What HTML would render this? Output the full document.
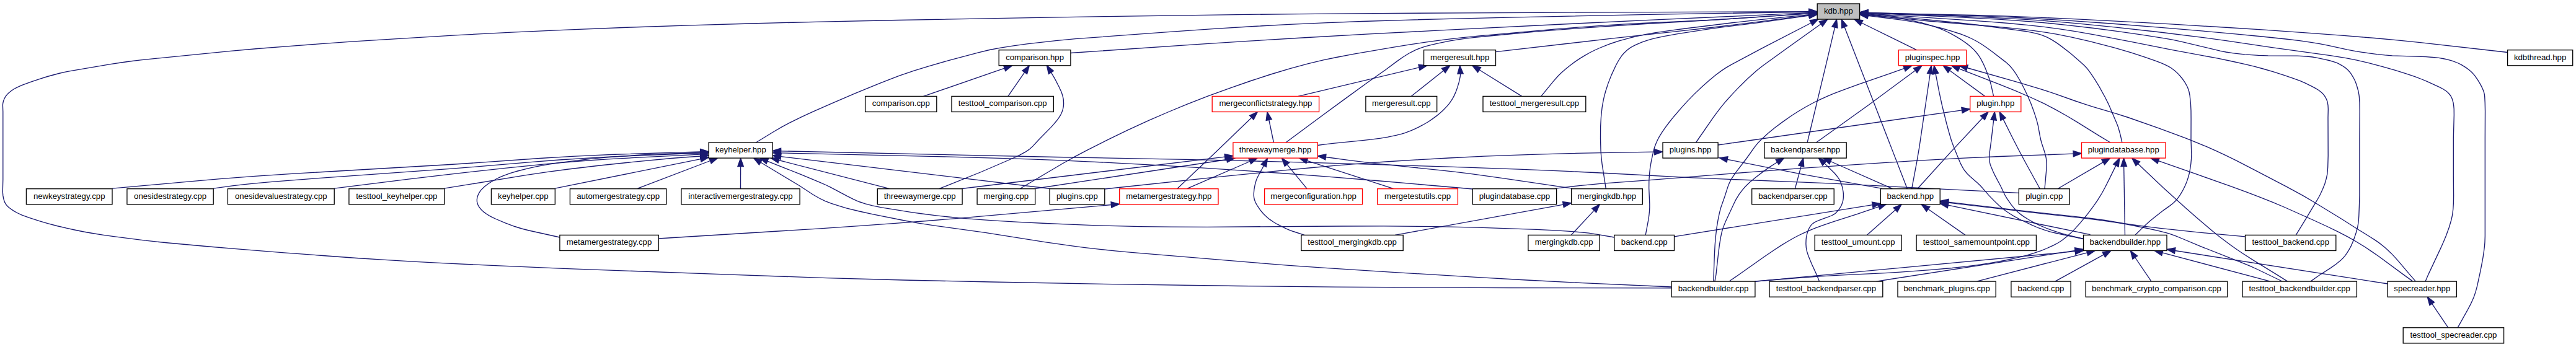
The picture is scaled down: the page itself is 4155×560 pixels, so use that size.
<!DOCTYPE html>
<html><head><meta charset="utf-8"><title>kdb.hpp</title>
<style>html,body{margin:0;padding:0;background:#fff}svg{display:block}.e path{fill:none;stroke:#191970;stroke-width:1.33}.e polygon{fill:#191970;stroke:#191970;stroke-width:1.33}.n rect{fill:#fff;stroke:#000;stroke-width:1.33}.n rect.r{stroke:#f00}.n rect.g{fill:#bfbfbf}.n text{font-family:"Liberation Sans",sans-serif;font-size:13.2px;text-anchor:middle;fill:#000}</style></head><body>
<svg width="4155" height="560" viewBox="0 0 4155 560">
<rect width="4155" height="560" fill="#fff"/>
<g class="e">
<path d="M1726.9,85.5 1930.1,71.7 2011.8,66.4 2100.3,61.0 2203.4,55.2 2348.1,47.6 2541.9,38.0 2665.3,32.2 2917.9,20.7"/>
<polygon points="2931.2,20.1 2918.1,25.4 2917.7,16.1"/>
<path d="M2412.5,83.6 2601.5,61.9 2718.5,49.2 2759.8,44.5 2817.0,37.6 2918.0,24.6"/>
<polygon points="2931.2,22.9 2918.6,29.2 2917.4,19.9"/>
<path d="M3091.5,80.7 3002.8,37.0"/>
<polygon points="2990.9,31.1 3004.9,32.8 3000.8,41.2"/>
<path d="M4044.6,84.5 3903.9,68.7 3867.0,64.9 3830.5,61.5 3780.0,57.4 3718.7,52.8 3651.8,48.2 3578.3,43.5 3497.2,38.7 3417.7,34.3 3340.4,30.4 3276.8,27.6 3231.7,25.9 3182.9,24.5 3012.9,20.8"/>
<polygon points="2999.6,20.5 3013.0,16.2 3012.8,25.5"/>
<path d="M1489.5,155.4 1620.2,110.1"/>
<polygon points="1632.8,105.8 1621.7,114.6 1618.7,105.7"/>
<path d="M1625.9,155.4 1652.7,116.7"/>
<polygon points="1660.3,105.8 1656.6,119.4 1648.9,114.1"/>
<path d="M2094.0,155.4 2289.0,108.9"/>
<polygon points="2301.9,105.8 2290.0,113.4 2287.9,104.3"/>
<path d="M2276.1,155.4 2328.3,114.1"/>
<polygon points="2338.7,105.8 2331.2,117.7 2325.4,110.4"/>
<path d="M2454.7,155.4 2386.1,112.8"/>
<polygon points="2374.8,105.8 2388.6,108.8 2383.6,116.8"/>
<path d="M2485.8,155.4 2505.2,131.6 2511.2,124.7 2515.5,120.3 2520.0,116.0 2526.7,110.3 2533.6,104.7 2540.8,99.4 2548.3,94.4 2556.1,89.6 2564.2,85.0 2572.2,81.0 2580.0,77.5 2590.8,73.1 2599.2,70.0 2610.9,66.2 2630.1,60.9 2646.4,57.1 2657.5,54.9 2669.0,52.9 2693.2,49.3 2718.6,46.0 2801.7,35.8 2837.4,31.9 2917.9,23.7"/>
<polygon points="2931.2,22.2 2918.4,28.3 2917.4,19.0"/>
<path d="M3201.7,155.4 3144.8,113.7"/>
<polygon points="3134.1,105.8 3147.6,109.9 3142.1,117.4"/>
<path d="M3215.6,155.4 3211.6,137.3 3209.1,128.2 3204.8,116.5 3201.2,107.5 3198.4,101.6 3195.3,95.7 3191.9,90.2 3190.0,87.5 3186.1,82.8 3181.9,78.4 3177.3,74.3 3172.4,70.4 3167.3,66.7 3161.9,63.1 3153.6,58.1 3145.4,53.6 3140.1,51.0 3132.0,47.4 3126.4,45.2 3117.7,42.1 3108.7,39.3 3099.2,36.7 3084.6,33.3 3076.2,31.7 3067.5,30.4 3049.3,28.2 3012.8,24.5"/>
<polygon points="2999.6,23.0 3013.4,19.9 3012.3,29.2"/>
<path d="M1219.0,230.2 1248.0,212.5 1261.5,204.6 1275.2,197.3 1294.1,188.1 1310.9,180.4 1342.2,166.6 1379.4,150.6 1419.1,134.4 1436.4,127.6 1450.7,122.2 1474.2,114.1 1497.9,106.8 1528.1,98.2 1578.0,84.8 1596.0,80.5 1614.0,77.1 1634.8,73.8 1656.5,70.9 1703.1,65.7 1734.5,62.7 1887.4,51.3 1959.4,46.4 2022.6,42.5 2079.9,39.4 2135.9,36.8 2197.0,34.5 2267.1,32.3 2348.6,30.1 2445.6,27.9 2660.8,23.3 2917.9,19.3"/>
<polygon points="2931.2,19.1 2917.9,24.0 2917.8,14.7"/>
<path d="M2054.4,230.0 2046.8,193.5"/>
<polygon points="2044.0,180.5 2051.3,192.5 2042.2,194.5"/>
<path d="M2125.2,234.5 2137.5,232.8 2150.1,231.3 2195.4,226.9 2211.3,225.2 2226.8,223.1 2238.7,221.2 2252.8,218.2 2260.7,216.1 2265.8,214.6 2276.3,210.7 2282.6,207.9 2288.8,204.9 2294.8,201.7 2303.4,196.7 2308.8,193.1 2316.4,187.6 2321.2,183.8 2327.7,177.9 2333.5,171.9 2337.0,167.9 2339.0,165.2 2342.7,159.6 2345.9,153.6 2348.5,147.5 2350.7,141.4 2353.3,132.7 2355.0,125.0 2355.5,121.4 2355.6,119.1"/>
<polygon points="2354.7,105.8 2360.2,118.8 2350.9,119.4"/>
<path d="M2074.0,230.0 2133.7,185.7 2168.3,160.4 2206.3,132.8 2235.4,112.2 2253.0,99.1 2262.7,92.2 2272.7,86.0 2277.9,83.3 2283.3,80.7 2288.9,78.4 2294.5,76.4 2300.1,74.6 2308.7,72.3 2320.8,69.6 2339.2,65.9 2349.9,64.1 2364.0,62.2 2378.9,60.4 2397.6,58.5 2450.1,53.5 2481.7,50.7 2539.9,46.2 2613.7,41.0 2653.3,38.5 2765.7,32.0 2917.9,21.8"/>
<polygon points="2931.2,20.9 2918.2,26.4 2917.6,17.1"/>
<path d="M2771.1,234.0 3164.5,177.9"/>
<polygon points="3177.7,176.0 3165.2,182.5 3163.8,173.3"/>
<path d="M2735.5,230.0 2763.4,189.6 2770.6,179.8 2776.2,172.6 2784.0,163.2 2794.7,151.4 2805.7,139.9 2818.8,127.1 2833.6,113.7 2843.1,106.2 2882.5,77.7 2937.0,38.8"/>
<polygon points="2947.9,31.1 2939.7,42.6 2934.3,35.0"/>
<path d="M2929.5,230.0 3013.6,169.7 3089.3,113.7"/>
<polygon points="3100.0,105.8 3092.1,117.5 3086.5,110.0"/>
<path d="M2915.1,230.0 2945.9,101.9 2959.5,44.1"/>
<polygon points="2962.5,31.1 2964.0,45.1 2954.9,43.0"/>
<path d="M3403.9,230.0 3385.8,219.1 3350.1,196.9 3334.5,187.5 3315.6,176.8 3296.0,166.7 3275.1,157.0 3250.5,146.4 3225.0,136.2 3159.9,110.8"/>
<polygon points="3147.5,105.8 3161.6,106.5 3158.1,115.1"/>
<path d="M3422.8,230.0 3422.0,226.0 3419.3,214.7 3416.5,205.0 3414.2,198.9 3401.0,168.1 3395.3,156.7 3386.3,140.4 3379.3,128.8 3372.0,117.8 3368.1,112.6 3366.0,110.0 3361.7,105.5 3357.1,101.2 3339.9,86.2 3325.2,74.9 3317.7,69.4 3309.4,64.1 3303.4,60.8 3300.2,59.4 3294.6,57.1 3289.5,55.4 3281.4,53.3 3275.8,52.1 3266.9,50.5 3251.3,48.3 3228.2,45.4 3195.7,41.0 3156.0,36.5 3079.9,28.8 3012.9,22.8"/>
<polygon points="2999.6,21.6 3013.3,18.2 3012.5,27.5"/>
<path d="M181.0,304.2 303.7,293.1 355.1,288.7 410.9,284.4 475.2,280.2 726.0,265.5 773.0,262.4 870.6,255.5 923.0,252.3 959.0,250.6 998.1,249.0 1129.8,244.9"/>
<polygon points="1143.1,244.5 1129.9,249.6 1129.6,240.3"/>
<path d="M344.0,304.2 374.8,299.9 391.7,297.8 411.4,295.8 439.1,293.4 512.9,287.7 726.0,272.4 773.0,268.7 861.9,261.1 902.4,258.0 944.0,255.3 986.0,253.0 1028.2,251.1 1129.8,247.1"/>
<polygon points="1143.1,246.5 1130.0,251.7 1129.6,242.4"/>
<path d="M538.7,304.2 658.7,289.1 715.9,282.3 814.6,271.3 883.7,264.4 935.0,260.0 980.0,256.9 1025.2,254.4 1129.8,249.2"/>
<polygon points="1143.1,248.5 1130.0,253.9 1129.5,244.6"/>
<path d="M716.0,304.2 848.3,282.7 883.9,277.4 917.0,273.0 967.7,267.0 1028.9,260.6 1082.8,255.5 1129.8,252.0"/>
<polygon points="1143.1,251.0 1130.2,256.7 1129.5,247.3"/>
<path d="M894.8,304.2 1130.0,256.6"/>
<polygon points="1143.1,254.0 1131.0,261.2 1129.1,252.1"/>
<path d="M1028.5,304.2 1145.5,259.5"/>
<polygon points="1158.0,254.7 1147.2,263.8 1143.9,255.1"/>
<path d="M1194.5,304.7 1194.6,268.5"/>
<polygon points="1194.6,255.1 1199.3,268.5 1189.9,268.5"/>
<path d="M1435.1,304.7 1256.1,258.5"/>
<polygon points="1243.2,255.1 1257.3,254.0 1255.0,263.0"/>
<path d="M1551.0,304.5 1975.7,253.1"/>
<polygon points="1988.9,251.5 1976.2,257.7 1975.1,248.5"/>
<path d="M1514.6,304.7 1581.3,278.0 1633.5,255.5 1644.5,250.4 1654.0,245.2 1658.0,242.6 1661.1,240.3 1666.0,235.9 1675.0,226.0 1695.0,205.6 1699.7,200.4 1704.0,195.3 1707.7,190.4 1710.7,185.7 1713.2,180.0 1714.3,176.6 1715.0,173.3 1715.5,170.0 1715.6,166.7 1715.2,160.0 1714.0,154.5 1712.1,148.8 1708.2,140.3 1701.2,126.6 1695.4,116.9"/>
<polygon points="1688.4,105.6 1699.4,114.5 1691.4,119.4"/>
<path d="M1669.0,304.5 1978.8,257.5"/>
<polygon points="1992.0,255.5 1979.5,262.1 1978.1,252.9"/>
<path d="M1644.8,304.7 1714.2,263.8 1733.1,253.2 1753.0,242.6 1786.1,225.9 1818.6,210.2 1852.3,194.7 1883.8,181.0 1915.5,167.9 1949.5,154.7 1984.8,141.8 2017.4,130.5 2049.6,120.0 2080.9,110.6 2109.5,102.8 2134.4,96.9 2155.7,92.5 2182.5,87.4 2246.5,76.4 2274.2,71.9 2301.1,67.9 2331.0,63.9 2354.8,61.1 2384.0,58.1 2504.3,47.4 2548.4,43.8 2589.2,40.8 2638.0,37.9 2732.4,33.7 2768.7,31.8 2823.0,28.4 2917.9,21.8"/>
<polygon points="2931.2,20.9 2918.2,26.4 2917.6,17.1"/>
<path d="M1694.0,304.5 1259.4,252.6"/>
<polygon points="1246.2,251.0 1260.0,247.9 1258.9,257.2"/>
<path d="M1781.8,305.0 1968.6,285.1 2066.0,275.4 2117.0,270.5 2157.5,266.9 2195.5,263.9 2235.3,261.0 2284.8,257.9 2336.5,255.0 2393.8,252.2 2441.4,250.3 2487.0,248.8 2531.6,247.6 2668.7,245.2"/>
<polygon points="2682.0,245.0 2668.8,249.9 2668.6,240.6"/>
<path d="M1898.6,304.7 1961.8,244.7 2018.8,189.7"/>
<polygon points="2028.4,180.5 2022.0,193.1 2015.6,186.4"/>
<path d="M1914.2,304.7 2016.0,260.5"/>
<polygon points="2028.2,255.1 2017.8,264.7 2014.1,256.2"/>
<path d="M2108.2,304.7 2075.9,265.4"/>
<polygon points="2067.4,255.1 2079.5,262.5 2072.3,268.4"/>
<path d="M2248.0,304.7 2108.3,259.3"/>
<polygon points="2095.6,255.1 2109.7,254.8 2106.8,263.7"/>
<path d="M2375.2,305.0 2220.0,291.5 2135.3,284.7 2073.4,280.0 2014.1,275.9 1934.3,270.7 1867.2,266.7 1806.1,263.3 1755.5,260.8 1706.6,258.7 1661.5,256.9 1612.9,255.4 1511.2,252.6 1259.5,246.8"/>
<polygon points="1246.2,246.5 1259.6,242.2 1259.4,251.5"/>
<path d="M2509.0,304.2 2547.6,299.6 2581.7,296.4 2663.7,290.3 2827.9,277.3 2904.0,271.7 2974.1,266.8 3086.0,259.6 3162.4,255.3 3225.7,252.5 3344.2,248.2"/>
<polygon points="3357.5,247.7 3344.4,252.9 3344.0,243.5"/>
<path d="M2536.0,304.2 2425.5,287.8 2371.7,280.4 2347.4,277.4 2322.2,274.6 2235.9,265.6 2208.9,262.7 2178.0,258.8 2138.4,253.5"/>
<polygon points="2125.2,251.7 2139.0,248.8 2137.8,258.1"/>
<path d="M2590.3,304.7 2584.1,264.8 2582.7,252.2 2582.0,242.6 2581.5,224.1 2581.6,204.8 2582.5,188.8 2584.1,173.6 2586.2,161.6 2587.6,155.4 2590.1,146.3 2593.9,134.6 2599.2,121.1 2605.8,106.8 2608.8,101.0 2612.0,95.5 2615.5,90.4 2617.4,88.0 2619.4,85.7 2623.8,81.5 2628.4,77.9 2633.4,74.8 2638.9,72.1 2648.2,68.2 2656.2,65.3 2663.7,63.1 2672.0,61.1 2683.8,58.6 2706.0,54.7 2752.7,47.3 2774.0,44.4 2832.5,37.2 2918.0,25.2"/>
<polygon points="2931.2,23.4 2918.7,29.8 2917.3,20.6"/>
<path d="M2895.3,304.7 2905.2,268.0"/>
<polygon points="2908.7,255.1 2909.7,269.2 2900.7,266.8"/>
<path d="M3035.0,304.2 2945.4,288.2 2903.9,280.6 2859.1,271.9 2786.1,257.3"/>
<polygon points="2773.0,254.7 2787.0,252.7 2785.2,261.9"/>
<path d="M3052.9,304.7 2952.7,260.5"/>
<polygon points="2940.5,255.1 2954.6,256.2 2950.8,264.8"/>
<path d="M3076.4,304.7 2975.1,43.5"/>
<polygon points="2970.3,31.1 2979.4,41.8 2970.7,45.2"/>
<path d="M3083.6,304.7 3091.8,260.8 3095.9,236.8 3113.2,119.0"/>
<polygon points="3115.2,105.8 3117.8,119.6 3108.6,118.3"/>
<path d="M3092.7,304.7 3146.9,244.9 3197.9,190.2"/>
<polygon points="3207.0,180.5 3201.3,193.4 3194.5,187.0"/>
<path d="M3256.3,311.3 2956.7,296.2 2902.4,293.8 2784.1,289.1 2731.1,286.8 2581.5,279.0 2534.0,276.7 2449.9,273.2 2337.1,269.2 2159.2,263.6 1992.9,259.1 1911.9,257.3 1703.2,253.5 1259.5,243.8"/>
<polygon points="1246.2,243.5 1259.6,239.1 1259.4,248.5"/>
<path d="M3290.4,304.7 3268.1,264.2 3257.9,245.3 3246.8,223.7 3231.1,192.4"/>
<polygon points="3225.1,180.5 3235.3,190.3 3226.9,194.5"/>
<path d="M3318.8,304.7 3392.2,261.9"/>
<polygon points="3403.7,255.1 3394.6,265.9 3389.9,257.8"/>
<path d="M3298.0,304.7 3300.8,273.2 3301.1,264.1 3300.7,258.4 3300.3,255.2 3299.0,249.1 3297.2,243.3 3293.4,231.8 3291.8,226.0 3290.5,220.2 3287.3,202.7 3285.0,193.6 3280.4,179.4 3276.0,167.5 3271.0,155.7 3264.2,141.5 3258.2,130.0 3251.7,119.2 3246.7,112.1 3242.9,107.5 3240.8,105.3 3234.4,99.6 3213.8,83.8 3204.2,76.7 3196.5,71.5 3188.2,66.5 3179.5,62.0 3171.9,58.6 3161.0,54.5 3146.6,49.8 3131.4,45.5 3112.6,40.9 3091.4,36.2 3079.6,34.1 3064.5,31.8 3012.8,25.3"/>
<polygon points="2999.6,23.5 3013.4,20.7 3012.2,29.9"/>
<path d="M902.9,383.0 853.3,372.0 841.5,369.0 830.3,365.5 815.1,359.9 800.0,353.5 794.4,350.8 789.2,348.1 784.6,345.3 780.7,342.4 776.4,338.5 774.2,335.9 772.4,333.3 771.0,330.7 770.0,328.0 769.4,325.3 769.3,322.0 769.8,318.6 770.9,315.2 772.5,311.8 774.5,308.6 776.0,306.6 777.8,304.7 782.0,300.8 786.9,297.0 792.3,293.5 801.0,288.5 806.0,286.1 811.3,283.8 822.7,279.7 835.0,276.0 851.4,271.8 864.9,268.8 882.3,265.7 903.6,262.4 931.9,258.8 952.6,256.4 976.6,254.2 1004.2,252.0 1035.2,250.0 1056.5,248.9 1081.2,248.0 1129.8,246.5"/>
<polygon points="1143.1,246.0 1129.9,251.1 1129.6,241.8"/>
<path d="M1062.2,385.0 1319.0,369.1 1384.9,364.7 1444.1,360.4 1501.6,356.0 1567.7,350.4 1792.4,330.5"/>
<polygon points="1805.7,329.3 1792.8,335.1 1792.0,325.8"/>
<path d="M2104.0,379.3 2086.0,373.5 2080.0,371.3 2074.2,368.8 2065.7,364.7 2059.9,361.7 2054.4,358.5 2047.0,353.4 2044.4,351.3 2039.6,346.8 2037.4,344.5 2033.4,339.8 2028.0,331.8 2026.1,328.7 2024.6,325.5 2023.4,322.2 2022.6,318.6 2022.3,315.6 2022.3,312.3 2022.9,305.5 2024.2,298.5 2026.0,291.9 2027.0,289.0 2029.7,283.2 2035.7,272.5 2038.3,267.4"/>
<polygon points="2044.4,255.5 2042.5,269.5 2034.2,265.2"/>
<path d="M2250.1,379.4 2521.5,330.1"/>
<polygon points="2534.6,327.7 2522.3,334.7 2520.6,325.5"/>
<path d="M2534.2,379.4 2571.2,339.6"/>
<polygon points="2580.3,329.8 2574.6,342.8 2567.8,336.4"/>
<path d="M2603.8,383.0 2575.3,378.1 2562.8,376.2 2549.7,374.8 2532.3,373.3 2509.5,371.9 2478.2,370.4 2383.4,367.1 2319.0,365.7 2231.7,364.9 2164.3,365.0 1947.2,366.3 1888.5,366.2 1839.0,365.6 1799.6,364.7 1763.0,363.6 1725.5,362.2 1686.6,360.5 1643.4,358.4 1609.3,356.4 1579.6,354.4 1551.5,352.1 1529.8,350.0 1508.2,347.6 1487.5,345.0 1470.3,342.6 1422.0,334.9 1407.3,331.9 1395.7,328.8 1387.1,326.0 1381.6,323.8 1376.2,321.4 1365.8,316.2 1347.5,306.3 1339.0,301.9 1333.1,299.0 1322.6,294.3 1292.7,281.9 1237.9,260.1"/>
<polygon points="1225.5,255.1 1239.6,255.8 1236.1,264.5"/>
<path d="M2654.2,379.4 2658.9,354.2 2659.8,347.7 2660.5,341.0 2660.8,335.1 2660.8,328.9 2659.7,303.7 2659.8,291.9 2660.7,279.2 2661.7,270.3 2663.2,261.4 2665.1,252.4 2667.1,243.5 2668.8,237.5 2671.1,231.4 2674.0,225.0 2676.5,220.4 2681.0,213.2 2686.2,205.7 2691.9,198.0 2700.2,187.7 2711.0,175.1 2721.6,163.4 2732.6,152.1 2744.2,141.0 2756.0,130.5 2767.4,121.0 2776.7,114.1 2784.2,109.1 2793.8,103.6 2844.0,76.9 2921.2,37.0"/>
<polygon points="2933.0,30.8 2923.3,41.1 2919.0,32.8"/>
<path d="M2700.5,381.8 3020.2,330.6"/>
<polygon points="3033.4,328.5 3021.0,335.2 3019.5,326.0"/>
<path d="M3011.2,379.4 3057.2,338.7"/>
<polygon points="3067.2,329.8 3060.3,342.2 3054.1,335.2"/>
<path d="M3169.9,379.4 3110.1,337.5"/>
<polygon points="3099.2,329.8 3112.8,333.7 3107.4,341.3"/>
<path d="M3371.6,378.7 3142.3,331.2"/>
<polygon points="3129.2,328.5 3143.2,326.6 3141.3,335.8"/>
<path d="M3360.5,385.5 3317.3,376.5 3306.1,373.8 3297.6,371.2 3288.4,368.0 3277.1,363.2 3259.9,355.0 3248.3,348.8 3240.1,343.7 3235.0,340.3 3229.6,336.1 3224.5,331.7 3217.3,324.9 3208.5,315.9 3194.6,300.0 3190.2,295.7 3177.6,284.8 3172.8,280.0 3168.7,275.0 3166.9,272.3 3165.2,269.4 3162.1,263.4 3159.4,257.1 3151.2,236.7 3149.2,231.5 3147.0,225.0 3144.1,215.2 3140.0,200.3 3132.7,171.0 3128.2,150.4 3122.1,118.9"/>
<polygon points="3119.5,105.8 3126.7,118.0 3117.5,119.8"/>
<path d="M3360.5,385.5 3333.0,378.8 3321.0,375.3 3309.1,371.3 3300.1,368.0 3291.5,364.4 3286.0,361.8 3277.7,357.6 3272.2,354.5 3264.4,349.6 3259.5,346.1 3255.0,342.4 3252.6,340.2 3248.2,335.4 3244.1,330.4 3237.0,320.2 3233.7,314.5 3226.8,300.0 3217.8,283.1 3215.1,277.6 3211.3,268.5 3210.2,265.4 3209.4,262.1 3208.8,258.4 3208.6,255.8 3208.6,253.1 3209.0,247.3 3211.6,228.3 3215.7,193.7"/>
<polygon points="3217.3,180.5 3220.3,194.3 3211.0,193.1"/>
<path d="M3427.5,379.4 3425.7,268.5"/>
<polygon points="3425.5,255.1 3430.4,268.4 3421.0,268.5"/>
<path d="M3444.0,379.3 3457.1,366.4 3466.2,358.1 3473.2,352.3 3490.0,339.1 3499.8,332.1 3504.5,328.4 3509.0,324.3 3511.0,322.0 3512.9,319.7 3516.4,314.6 3519.7,309.2 3522.7,303.5 3525.4,297.7 3527.7,291.9 3529.6,286.0 3531.2,280.0 3532.4,273.8 3533.8,264.5 3534.6,255.2 3534.8,249.0 3534.0,226.0 3534.1,191.4 3534.0,178.8 3533.5,168.0 3532.1,154.0 3530.9,148.0 3528.8,141.8 3527.4,138.7 3524.0,132.7 3520.0,127.0 3516.3,122.5 3512.3,118.1 3507.7,113.9 3502.4,110.0 3497.7,107.2 3492.6,104.6 3487.0,102.2 3478.0,98.7 3459.4,92.1 3437.3,84.8 3409.9,76.9 3370.3,66.7 3341.8,60.1 3317.0,55.2 3300.4,52.3 3286.6,50.3 3269.7,48.1 3251.7,46.1 3213.4,42.5 3110.5,34.0 3073.3,30.2 3012.9,23.7"/>
<polygon points="2999.6,22.2 3013.4,19.0 3012.4,28.3"/>
<path d="M3621.5,381.8 3543.1,374.7 3484.3,368.3 3460.0,365.4 3438.0,362.5 3424.9,360.5 3395.3,355.5 3372.9,352.5 3343.9,349.2 3263.8,340.4 3142.4,326.1"/>
<polygon points="3129.2,324.5 3143.0,321.4 3141.9,330.7"/>
<path d="M3703.2,379.3 3720.2,351.7 3734.9,327.1 3739.7,319.0 3742.5,313.7 3746.3,305.5 3749.8,296.7 3752.3,288.0 3753.6,282.0 3754.0,278.9 3754.7,269.7 3755.2,251.1 3755.0,190.0 3755.3,175.9 3755.0,170.0 3754.4,166.4 3753.7,163.2 3752.4,160.0 3750.9,157.2 3749.2,154.4 3747.0,151.7 3744.3,149.0 3740.2,145.8 3735.1,142.7 3729.5,139.6 3717.8,133.9 3709.8,130.4 3698.7,126.3 3684.1,121.3 3667.0,115.9 3651.9,111.5 3636.9,107.4 3622.2,103.8 3600.4,99.0 3577.2,94.2 3502.8,80.3 3437.5,67.3 3377.2,55.9 3347.2,50.6 3321.2,46.6 3297.0,43.4 3269.2,40.3 3238.9,37.5 3209.6,35.2 3172.9,32.6 3012.9,22.1"/>
<polygon points="2999.6,21.1 3013.2,17.4 3012.6,26.7"/>
<path d="M2696.1,464.8 2436.8,464.5 2316.5,464.1 2154.7,463.1 1997.0,461.5 1811.0,458.9 1598.2,455.0 1457.3,452.0 1334.0,448.6 1176.9,443.2 908.7,433.3 787.8,428.1 723.6,425.1 670.8,422.3 620.9,419.4 575.1,416.5 520.6,412.5 458.1,407.8 377.5,401.4 337.5,398.0 271.3,392.0 234.3,388.2 185.4,381.9 167.1,379.3 149.2,376.5 135.0,374.0 120.2,371.0 107.2,368.2 91.7,364.5 77.0,360.6 63.4,356.6 47.2,351.4 35.4,347.1 27.7,343.5 22.1,340.4 16.2,336.3 13.6,334.2 11.4,332.0 9.5,329.6 7.6,326.4 6.4,323.0 5.5,319.3 4.8,315.4 4.3,309.6 4.8,290.0 4.8,180.0 4.4,169.3 4.8,166.0 5.8,162.1 7.4,158.5 9.5,155.0 11.4,152.6 13.7,150.3 19.0,146.0 22.0,144.0 26.8,141.3 35.0,137.7 50.0,132.1 64.2,127.3 76.5,123.5 95.0,118.5 104.2,116.4 113.3,114.7 177.9,103.7 195.3,101.0 209.3,99.0 226.8,96.9 246.2,94.9 372.0,82.4 415.4,78.5 468.8,74.3 567.0,67.1 619.5,63.8 738.8,56.6 830.5,51.9 920.4,47.8 1018.5,44.0 1113.0,40.8 1210.6,38.0 1325.8,35.1 1449.3,32.5 1605.1,29.6 1784.0,26.6 1995.4,23.6 2093.7,22.6 2182.8,21.8 2364.5,20.8 2917.9,18.7"/>
<polygon points="2931.2,18.7 2917.9,23.4 2917.9,14.1"/>
<path d="M2696.1,463.0 2552.5,456.6 2462.3,452.0 2380.7,447.3 2238.8,438.9 2133.6,432.2 2079.2,428.3 2020.8,423.7 1825.0,407.3 1798.3,404.9 1774.4,402.4 1750.1,399.6 1729.3,396.9 1686.9,390.8 1589.0,375.4 1509.4,364.4 1479.8,359.8 1459.0,356.0 1408.3,345.9 1386.1,341.0 1365.0,335.8 1351.2,331.7 1341.0,328.4 1330.7,324.3 1321.7,320.0 1311.3,314.0 1288.8,299.3 1226.9,262.0"/>
<polygon points="1215.5,255.1 1229.3,258.0 1224.5,266.0"/>
<path d="M2763.8,454.1 2765.3,412.4 2766.2,395.1 2767.2,382.7 2769.1,366.9 2771.1,354.8 2773.4,343.6 2775.8,334.6 2782.0,317.0 2786.9,301.6 2789.4,295.3 2792.3,289.7 2795.3,284.8 2800.5,277.3 2817.6,255.0 2829.9,237.6 2835.9,230.2 2842.7,223.4 2852.2,214.8 2863.2,205.8 2875.5,196.6 2888.8,187.3 2900.1,180.0 2911.9,173.0 2925.6,165.5 2935.2,160.8 2947.9,155.1 2958.6,150.7 2972.5,145.3 2998.5,135.8 3049.2,118.4 3071.6,110.4"/>
<polygon points="3084.1,105.8 3073.2,114.8 3069.9,106.1"/>
<path d="M2765.9,454.1 2767.5,446.0 2768.0,442.4 2771.7,408.8 2773.5,394.6 2775.7,381.6 2777.5,373.5 2779.6,366.6 2783.3,357.4 2796.8,328.5 2799.7,322.6 2804.8,314.2 2810.6,306.4 2815.0,301.3 2821.6,294.8 2830.9,286.9 2843.7,277.1 2853.8,269.9 2866.6,261.7"/>
<polygon points="2878.0,254.7 2869.1,265.6 2864.2,257.7"/>
<path d="M2790.0,453.3 2805.1,443.0 2845.4,414.5 2863.1,402.5 2873.2,395.9 2883.3,389.7 2893.4,384.0 2901.0,380.0 2909.7,375.8 2918.7,371.9 2927.8,368.2 2940.1,363.6 2958.4,357.4 2994.4,345.8 3030.4,333.6"/>
<polygon points="3043.0,329.3 3031.9,338.0 3028.9,329.1"/>
<path d="M2830.0,454.4 3347.2,405.7"/>
<polygon points="3360.5,404.5 3347.7,410.4 3346.8,401.1"/>
<path d="M2830.9,454.0 2899.6,448.5 2936.9,445.8 2966.7,444.2 3035.4,440.9 3065.2,439.2 3112.8,435.7 3149.0,432.5 3166.0,430.6 3188.1,427.8 3206.3,425.2 3220.9,422.7 3235.0,420.0 3253.9,415.9 3268.9,412.1 3280.3,408.7 3292.0,404.6 3301.0,401.0 3312.2,395.9 3319.5,392.0 3325.4,388.2 3333.1,382.3 3340.1,376.1 3346.7,369.4 3355.7,359.4 3367.0,345.6 3376.2,333.4 3383.5,322.8 3389.9,312.5 3395.5,302.2 3402.4,288.6 3412.9,267.1"/>
<polygon points="3418.8,255.1 3417.1,269.2 3408.7,265.0"/>
<path d="M2934.3,453.6 2930.6,444.2 2923.3,428.4 2919.1,418.6 2916.5,412.0 2914.5,405.6 2913.3,399.6 2912.9,393.6 2913.1,387.0 2913.4,383.7 2914.7,377.3 2916.7,371.3 2918.0,368.5 2919.5,365.9 2921.3,363.4 2923.2,361.4 2925.6,359.6 2928.2,358.0 2934.4,355.3 2947.8,350.5 2954.1,348.0 2956.9,346.6 2959.3,345.1 2961.4,343.4 2965.7,338.6 2967.5,336.0 2969.1,333.4 2970.4,330.7 2971.5,327.8 2972.4,325.0 2973.0,322.0 2973.3,319.2 2973.4,313.2 2973.1,310.1 2972.0,303.8 2971.2,300.6 2969.2,294.7 2968.0,291.9 2966.6,289.3 2963.0,284.2 2958.8,279.3 2942.9,263.6"/>
<polygon points="2933.0,254.7 2946.1,260.1 2939.8,267.1"/>
<path d="M3026.5,454.1 3347.3,404.4"/>
<polygon points="3360.5,402.4 3348.0,409.0 3346.6,399.8"/>
<path d="M3188.4,454.1 3366.5,407.8"/>
<polygon points="3379.4,404.5 3367.7,412.4 3365.3,403.3"/>
<path d="M3314.8,454.1 3393.3,410.9"/>
<polygon points="3404.9,404.5 3395.5,415.0 3391.0,406.8"/>
<path d="M3470.0,454.1 3443.8,415.5"/>
<polygon points="3436.3,404.5 3447.6,412.9 3439.9,418.1"/>
<path d="M3661.9,454.1 3487.9,407.9"/>
<polygon points="3475.0,404.5 3489.1,403.4 3486.7,412.4"/>
<path d="M3680.0,453.5 3640.7,434.5 3628.8,429.2 3612.3,422.3 3547.8,396.9 3519.6,385.0 3508.9,380.7 3500.5,377.7 3494.8,375.9 3480.0,372.1 3458.8,367.5 3425.8,361.2 3408.3,358.4 3383.2,354.9 3353.0,351.2 3266.9,341.7 3142.4,327.2"/>
<polygon points="3129.2,325.7 3143.0,322.6 3141.9,331.9"/>
<path d="M3689.7,454.1 3674.3,444.4 3635.6,420.6 3617.8,409.2 3607.8,402.5 3597.9,395.5 3580.9,382.7 3568.8,373.1 3557.0,363.1 3542.9,351.0 3524.7,334.9 3488.8,302.5 3448.4,264.3"/>
<polygon points="3438.7,255.1 3451.6,260.9 3445.1,267.7"/>
<path d="M3726.9,454.1 3740.1,444.8 3759.7,432.1 3768.0,426.3 3775.6,420.1 3779.9,415.8 3781.8,413.6 3785.6,408.4 3789.0,402.9 3792.1,397.1 3794.7,391.2 3797.1,385.1 3800.1,376.0 3802.6,367.0 3803.7,360.9 3804.4,354.7 3804.8,348.5 3805.7,323.9 3805.9,315.0 3805.9,222.8 3806.2,179.0 3806.0,165.6 3805.3,155.7 3804.9,152.5 3803.6,146.0 3801.0,136.8 3798.7,130.8 3795.7,124.8 3792.0,118.9 3790.0,116.2 3787.8,113.7 3785.5,111.5 3783.0,109.4 3777.6,105.8 3772.3,102.8 3769.2,101.4 3763.1,99.4 3756.6,97.5 3749.4,95.8 3736.5,93.1 3730.0,92.0 3720.9,91.0 3705.4,90.1 3658.3,89.8 3642.8,89.3 3620.7,87.8 3602.5,85.9 3590.3,84.0 3580.9,82.1 3518.1,67.1 3504.1,64.2 3489.7,61.7 3454.8,56.2 3416.2,50.6 3377.3,45.5 3337.0,40.8 3310.2,38.0 3283.3,35.5 3255.1,33.3 3223.0,31.2 3165.7,28.1 3012.9,21.1"/>
<polygon points="2999.6,20.4 3013.2,16.5 3012.7,25.8"/>
<path d="M3851.1,458.0 3508.2,404.5"/>
<polygon points="3495.0,402.4 3508.9,399.9 3507.5,409.1"/>
<path d="M3891.2,453.6 3876.3,442.9 3836.9,413.8 3824.3,405.1 3814.1,398.3 3801.0,390.2 3787.7,382.7 3770.9,373.9 3753.6,365.5 3730.8,355.0 3685.0,334.5 3665.7,326.4 3643.0,317.3 3624.0,310.1 3598.1,300.7 3542.4,280.9 3481.6,259.6"/>
<polygon points="3469.0,255.2 3483.1,255.2 3480.0,264.0"/>
<path d="M3896.0,453.6 3887.7,444.1 3869.1,422.1 3862.9,415.1 3856.5,408.4 3850.0,402.2 3845.4,398.2 3838.0,392.4 3830.5,387.1 3822.8,382.2 3805.0,371.2 3775.9,352.8 3730.9,325.2 3714.5,315.6 3688.3,301.3 3629.9,270.8 3608.1,259.6 3588.2,249.8 3573.7,243.1 3559.7,236.9 3543.2,230.1 3525.8,223.2 3505.0,215.3 3481.3,206.6 3432.5,189.5 3413.3,183.3 3376.0,172.3 3362.0,167.9 3347.5,163.0 3313.3,150.8 3290.3,143.4 3251.7,131.9 3173.0,109.5"/>
<polygon points="3160.2,105.8 3174.3,105.0 3171.7,114.0"/>
<path d="M3912.1,454.1 3917.0,442.6 3937.3,399.4 3942.5,387.5 3945.6,380.0 3950.3,367.0 3953.7,355.5 3955.7,346.6 3956.8,337.2 3957.4,327.5 3957.6,316.1 3957.3,283.2 3957.3,222.9 3958.3,185.4 3958.2,176.0 3957.7,170.5 3957.0,165.6 3955.3,159.8 3954.0,156.7 3952.4,154.0 3950.4,151.5 3948.0,149.0 3946.0,147.2 3941.1,144.0 3935.3,140.9 3914.6,131.4 3906.5,128.0 3895.1,123.7 3880.9,118.8 3863.5,113.4 3842.3,107.4 3819.7,101.4 3801.5,97.1 3783.7,93.6 3758.7,89.6 3666.4,76.9 3590.5,65.6 3555.9,60.8 3480.2,51.5 3410.9,43.8 3350.8,37.9 3322.2,35.4 3294.1,33.2 3250.6,30.4 3200.0,27.8 3154.7,25.9 3012.9,20.7"/>
<polygon points="2999.6,20.1 3013.1,16.0 3012.7,25.3"/>
<path d="M3948.9,528.8 3922.7,490.2"/>
<polygon points="3915.3,479.2 3926.6,487.6 3918.9,492.8"/>
<path d="M3964.1,528.8 3979.6,501.2 3985.3,490.4 3987.8,485.1 3990.0,480.0 3993.2,470.6 3995.6,461.7 4000.2,440.3 4002.7,428.0 4005.0,415.3 4006.4,405.9 4007.5,397.0 4008.0,390.5 4008.3,381.0 4008.3,222.9 4008.5,179.2 4008.2,165.6 4007.7,155.6 4007.3,152.4 4006.5,149.0 4005.5,146.0 4002.8,139.9 3999.5,133.9 3996.5,128.9 3991.2,121.4 3987.0,116.8 3982.5,112.8 3977.6,109.1 3969.5,104.2 3964.0,101.5 3955.0,98.2 3948.8,96.4 3942.7,95.0 3933.7,93.4 3924.1,92.5 3912.9,91.7 3858.7,89.8 3846.6,88.9 3834.1,87.6 3819.2,85.7 3800.6,82.8 3786.2,80.1 3755.4,73.4 3742.8,70.9 3727.7,68.4 3709.1,65.7 3686.9,63.0 3648.8,59.0 3605.9,54.9 3553.9,50.2 3479.2,43.9 3404.8,38.0 3339.2,33.4 3284.5,30.0 3238.1,27.7 3189.7,25.7 3012.9,20.3"/>
<polygon points="2999.6,19.8 3013.1,15.6 3012.8,24.9"/>
</g>
<g class="n">
<rect class="g" x="2931.2" y="6.0" width="68.4" height="25.1"/><text x="2965.4" y="21.9">kdb.hpp</text>
<rect x="1611.2" y="80.7" width="115.7" height="25.1"/><text x="1669.1" y="96.5">comparison.hpp</text>
<rect x="2296.6" y="80.7" width="115.9" height="25.1"/><text x="2354.6" y="96.5">mergeresult.hpp</text>
<rect class="r" x="3062.4" y="80.7" width="109.2" height="25.1"/><text x="3117.0" y="96.5">pluginspec.hpp</text>
<rect x="4044.6" y="80.7" width="105.1" height="25.1"/><text x="4097.1" y="96.5">kdbthread.hpp</text>
<rect x="1395.6" y="155.4" width="115.2" height="25.1"/><text x="1453.2" y="171.2">comparison.cpp</text>
<rect x="1535.0" y="155.4" width="164.4" height="25.1"/><text x="1617.2" y="171.2">testtool_comparison.cpp</text>
<rect class="r" x="1955.2" y="155.4" width="172.4" height="25.1"/><text x="2041.4" y="171.2">mergeconflictstrategy.hpp</text>
<rect x="2202.9" y="155.4" width="114.8" height="25.1"/><text x="2260.3" y="171.2">mergeresult.cpp</text>
<rect x="2392.0" y="155.4" width="165.8" height="25.1"/><text x="2474.9" y="171.2">testtool_mergeresult.cpp</text>
<rect class="r" x="3177.7" y="155.4" width="82.1" height="25.1"/><text x="3218.8" y="171.2">plugin.hpp</text>
<rect x="1143.1" y="230.0" width="103.1" height="25.1"/><text x="1194.7" y="245.9">keyhelper.hpp</text>
<rect class="r" x="1988.9" y="230.0" width="136.3" height="25.1"/><text x="2057.1" y="245.9">threewaymerge.hpp</text>
<rect x="2682.0" y="230.0" width="89.1" height="25.1"/><text x="2726.6" y="245.9">plugins.hpp</text>
<rect x="2845.9" y="230.0" width="132.3" height="25.1"/><text x="2912.1" y="245.9">backendparser.hpp</text>
<rect class="r" x="3357.5" y="230.0" width="135.5" height="25.1"/><text x="3425.2" y="245.9">plugindatabase.hpp</text>
<rect x="42.4" y="304.7" width="138.6" height="25.1"/><text x="111.7" y="320.6">newkeystrategy.cpp</text>
<rect x="204.9" y="304.7" width="139.3" height="25.1"/><text x="274.6" y="320.6">onesidestrategy.cpp</text>
<rect x="367.4" y="304.7" width="171.8" height="25.1"/><text x="453.3" y="320.6">onesidevaluestrategy.cpp</text>
<rect x="562.9" y="304.7" width="153.9" height="25.1"/><text x="639.8" y="320.6">testtool_keyhelper.cpp</text>
<rect x="792.4" y="304.7" width="102.9" height="25.1"/><text x="843.8" y="320.6">keyhelper.cpp</text>
<rect x="919.4" y="304.7" width="155.4" height="25.1"/><text x="997.1" y="320.6">automergestrategy.cpp</text>
<rect x="1098.9" y="304.7" width="191.2" height="25.1"/><text x="1194.5" y="320.6">interactivemergestrategy.cpp</text>
<rect x="1415.3" y="304.7" width="136.8" height="25.1"/><text x="1483.7" y="320.6">threewaymerge.cpp</text>
<rect x="1576.1" y="304.7" width="93.6" height="25.1"/><text x="1622.9" y="320.6">merging.cpp</text>
<rect x="1693.1" y="304.7" width="88.7" height="25.1"/><text x="1737.4" y="320.6">plugins.cpp</text>
<rect class="r" x="1805.7" y="304.7" width="159.3" height="25.1"/><text x="1885.3" y="320.6">metamergestrategy.hpp</text>
<rect class="r" x="2039.6" y="304.7" width="157.9" height="25.1"/><text x="2118.6" y="320.6">mergeconfiguration.hpp</text>
<rect class="r" x="2221.7" y="304.7" width="129.7" height="25.1"/><text x="2286.6" y="320.6">mergetestutils.cpp</text>
<rect x="2375.2" y="304.7" width="135.4" height="25.1"/><text x="2442.9" y="320.6">plugindatabase.cpp</text>
<rect x="2534.6" y="304.7" width="114.7" height="25.1"/><text x="2591.9" y="320.6">mergingkdb.hpp</text>
<rect x="2825.7" y="304.7" width="132.5" height="25.1"/><text x="2891.9" y="320.6">backendparser.cpp</text>
<rect x="3033.4" y="304.7" width="95.8" height="25.1"/><text x="3081.3" y="320.6">backend.hpp</text>
<rect x="3256.3" y="304.7" width="81.9" height="25.1"/><text x="3297.2" y="320.6">plugin.cpp</text>
<rect x="902.9" y="379.4" width="159.3" height="25.1"/><text x="982.5" y="395.3">metamergestrategy.cpp</text>
<rect x="2098.9" y="379.4" width="164.3" height="25.1"/><text x="2181.1" y="395.3">testtool_mergingkdb.cpp</text>
<rect x="2464.9" y="379.4" width="115.3" height="25.1"/><text x="2522.6" y="395.3">mergingkdb.cpp</text>
<rect x="2603.8" y="379.4" width="96.7" height="25.1"/><text x="2652.2" y="395.3">backend.cpp</text>
<rect x="2927.2" y="379.4" width="139.8" height="25.1"/><text x="2997.1" y="395.3">testtool_umount.cpp</text>
<rect x="3091.1" y="379.4" width="193.3" height="25.1"/><text x="3187.8" y="395.3">testtool_samemountpoint.cpp</text>
<rect x="3360.5" y="379.4" width="134.5" height="25.1"/><text x="3427.8" y="395.3">backendbuilder.hpp</text>
<rect x="3621.5" y="379.4" width="146.3" height="25.1"/><text x="3694.7" y="395.3">testtool_backend.cpp</text>
<rect x="2696.1" y="454.1" width="134.8" height="25.1"/><text x="2763.5" y="469.9">backendbuilder.cpp</text>
<rect x="2854.0" y="454.1" width="182.8" height="25.1"/><text x="2945.4" y="469.9">testtool_backendparser.cpp</text>
<rect x="3061.0" y="454.1" width="158.2" height="25.1"/><text x="3140.1" y="469.9">benchmark_plugins.cpp</text>
<rect x="3243.9" y="454.1" width="96.2" height="25.1"/><text x="3292.0" y="469.9">backend.cpp</text>
<rect x="3364.2" y="454.1" width="228.6" height="25.1"/><text x="3478.5" y="469.9">benchmark_crypto_comparison.cpp</text>
<rect x="3617.0" y="454.1" width="184.4" height="25.1"/><text x="3709.2" y="469.9">testtool_backendbuilder.cpp</text>
<rect x="3851.1" y="454.1" width="111.3" height="25.1"/><text x="3906.8" y="469.9">specreader.hpp</text>
<rect x="3876.2" y="528.8" width="162.4" height="25.1"/><text x="3957.4" y="544.6">testtool_specreader.cpp</text>
</g>
</svg>
</body></html>
